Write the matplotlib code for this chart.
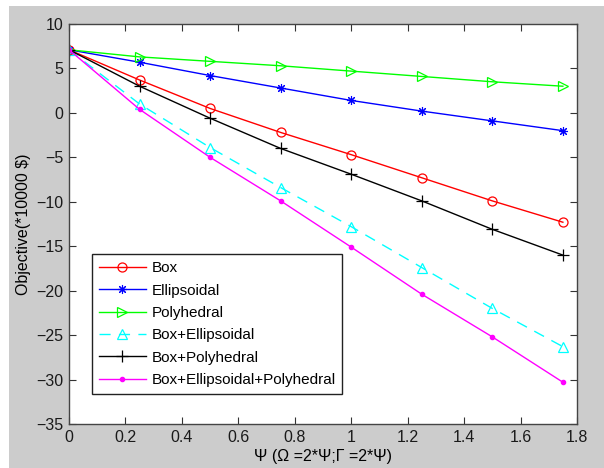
import numpy as np
import matplotlib
matplotlib.use("Agg")
import matplotlib.pyplot as plt

plt.rcParams['font.family'] = ['Liberation Sans', 'DejaVu Sans']

# data
psi = [0, 0.25, 0.5, 0.75, 1.0, 1.25, 1.5, 1.75]
box = [7.1, 3.7, 0.5, -2.2, -4.7, -7.3, -9.9, -12.3]
ellipsoidal = [7.1, 5.7, 4.2, 2.8, 1.4, 0.2, -0.9, -2.0]
polyhedral = [7.1, 6.3, 5.8, 5.3, 4.7, 4.1, 3.5, 3.0]
box_ell = [7.1, 1.0, -3.9, -8.4, -12.8, -17.4, -22.0, -26.3]
box_poly = [7.1, 3.0, -0.6, -4.0, -6.9, -9.9, -13.1, -16.0]
box_ell_poly = [7.1, 0.4, -5.0, -9.9, -15.1, -20.4, -25.2, -30.3]

xticks = [0, 0.2, 0.4, 0.6, 0.8, 1, 1.2, 1.4, 1.6, 1.8]
yticks = [-35, -30, -25, -20, -15, -10, -5, 0, 5, 10]

fig = plt.figure(figsize=(6.04, 4.68), dpi=100, facecolor='white')
# gray MATLAB figure background, leaving thin white strip top/left
fig.patches.append(plt.Rectangle((9 / 604, 0), 1, 1 - 6 / 468,
                                 transform=fig.transFigure,
                                 facecolor='#cccccc', edgecolor='none', zorder=-10))
ax = fig.add_axes([69 / 604, 44 / 468, 508 / 604, 400 / 468])
ax.set_facecolor('white')

ms = 6.5
ax.plot(psi, box, color='#ff0000', marker='o', mfc='none', ms=ms, lw=1, mew=0.9, label='Box')
ax.plot(psi, ellipsoidal, color='#0000ff', marker=(8, 2, 0), ms=ms, lw=1, mew=0.8, label='Ellipsoidal')
ax.plot(psi, polyhedral, color='#00ff00', marker='>', mfc='none', ms=ms + 1, lw=1, mew=0.9, label='Polyhedral')
ax.plot(psi, box_ell, color='#00ffff', marker='^', mfc='none', ms=ms + 1, lw=1, mew=0.9,
        dashes=(8, 6), label='Box+Ellipsoidal')
ax.plot(psi, box_poly, color='black', marker='+', ms=ms + 2, lw=1, mew=0.9, label='Box+Polyhedral')
ax.plot(psi, box_ell_poly, color='#ff00ff', marker='.', ms=6, lw=1, label='Box+Ellipsoidal+Polyhedral')

ax.set_xlim(0, 1.8)
ax.set_ylim(-35, 10)
ax.set_xticks(xticks)
ax.set_xticklabels(['0', '0.2', '0.4', '0.6', '0.8', '1', '1.2', '1.4', '1.6', '1.8'])
ax.set_yticks(yticks)
ax.tick_params(direction='in', top=True, right=True, length=5, labelsize=11.5,
               color='#333333', labelcolor='#1a1a1a', pad=4)
for s in ax.spines.values():
    s.set_color('#444444')
    s.set_linewidth(1)

ax.set_xlabel('Ψ (Ω =2*Ψ;Γ =2*Ψ)', fontsize=11.5, labelpad=3)
ax.set_ylabel(r'Objective(*10000 \$)', fontsize=11.5, labelpad=4)

leg = ax.legend(loc='lower left', bbox_to_anchor=(0.045, 0.075), fontsize=11,
                fancybox=False, framealpha=1, edgecolor='#222222',
                handlelength=3.1, borderaxespad=0, labelspacing=0.55,
                borderpad=0.45, handletextpad=0.35)
leg.get_frame().set_linewidth(1)

fig.savefig('out.png', dpi=100, facecolor=fig.get_facecolor())
